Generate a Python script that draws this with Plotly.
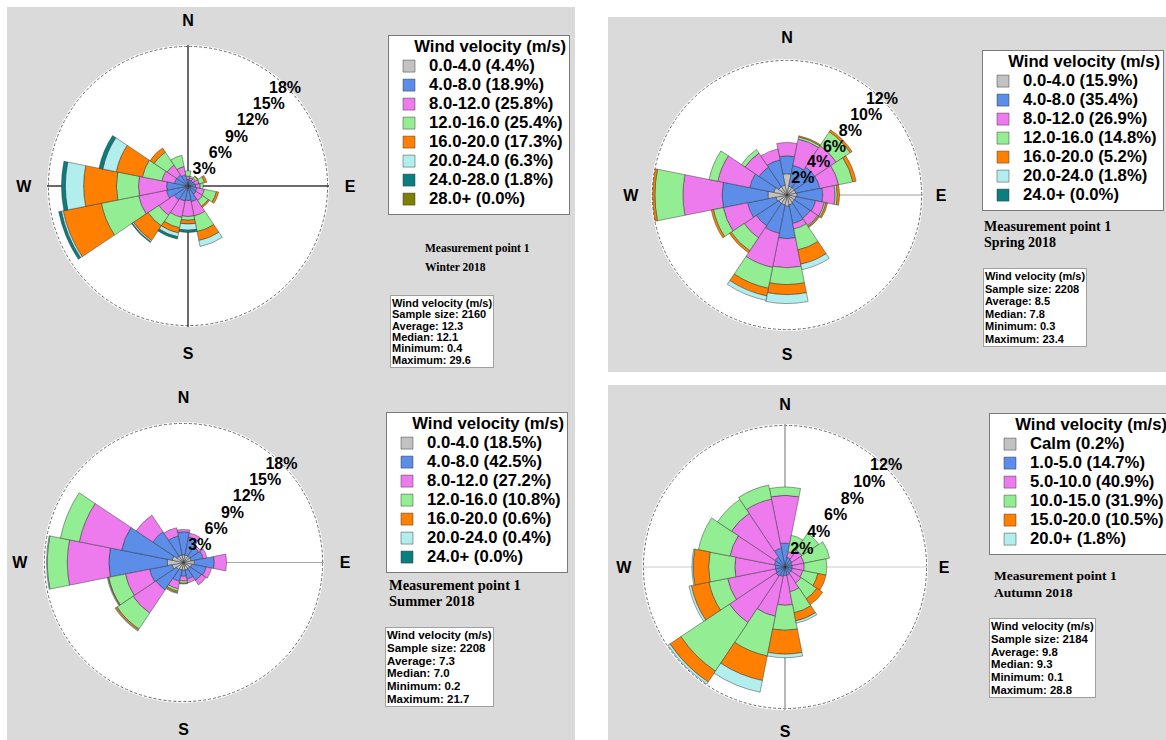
import plotly.graph_objects as go

W, H = 1166, 740
SANS = "Liberation Sans, Arial, sans-serif"
SERIF = "Liberation Serif, Times New Roman, serif"

# 16 compass sectors, degrees clockwise from north
directions = ["N", "NNE", "NE", "ENE", "E", "ESE", "SE", "SSE",
              "S", "SSW", "SW", "WSW", "W", "WNW", "NW", "NNW"]
angles = [i * 22.5 for i in range(16)]

speed_colors = ["#c2c2c2", "#5b8de9", "#ee7bee", "#93ee93",
                "#ff8000", "#b3eeee", "#0b7f80", "#808000"]

# ---- Winter 2018: frequency (%) per sector for each speed class ----
winter_bins = ["0.0-4.0 (4.4%)", "4.0-8.0 (18.9%)", "8.0-12.0 (25.8%)",
               "12.0-16.0 (25.4%)", "16.0-20.0 (17.3%)", "20.0-24.0 (6.3%)",
               "24.0-28.0 (1.8%)", "28.0+ (0.0%)"]
winter_freq = [
    [0.25, 0.2, 0.25, 0.25, 0.3, 0.3, 0.3, 0.3, 0.3, 0.3, 0.3, 0.35, 0.35, 0.25, 0.25, 0.25],
    [0.65, 0.6, 0.55, 0.65, 0.7, 0.9, 1.0, 1.8, 1.6, 1.7, 1.9, 2.55, 2.45, 1.55, 1.5, 1.25],
    [0.4, 0.3, 0.4, 0.6, 0.6, 1.0, 1.0, 1.9, 2.1, 2.2, 2.4, 3.7, 3.7, 1.7, 1.55, 1.1],
    [0.7, 0.2, 0.3, 0.7, 0.4, 1.6, 0.9, 2.1, 0.5, 1.4, 1.7, 5.0, 2.9, 2.6, 2.05, 1.5],
    [0.0, 0.0, 0.1, 0.3, 0.0, 0.3, 0.2, 1.2, 0.5, 0.7, 2.3, 5.1, 4.3, 3.5, 0.65, 0.0],
    [0.0, 0.0, 0.0, 0.0, 0.0, 0.0, 0.0, 0.8, 0.8, 0.5, 0.2, 0.25, 2.4, 1.8, 0.0, 0.0],
    [0.0, 0.0, 0.0, 0.0, 0.0, 0.0, 0.0, 0.0, 0.3, 0.3, 0.1, 0.35, 0.5, 0.5, 0.0, 0.0],
    [0.0] * 16,
]
winter_rings = [3, 6, 9, 12, 15, 18]
winter_stats = ["Wind velocity (m/s)", "Sample size: 2160", "Average: 12.3",
                "Median: 12.1", "Minimum: 0.4", "Maximum: 29.6"]

# ---- Spring 2018 ----
spring_bins = ["0.0-4.0 (15.9%)", "4.0-8.0 (35.4%)", "8.0-12.0 (26.9%)",
               "12.0-16.0 (14.8%)", "16.0-20.0 (5.2%)", "20.0-24.0 (1.8%)",
               "24.0+ (0.0%)"]
spring_freq = [
    [1.9, 0.8, 0.8, 0.8, 0.9, 0.8, 0.8, 0.9, 1.0, 0.9, 0.9, 1.0, 1.7, 1.2, 0.9, 0.9],
    [1.6, 1.9, 2.2, 2.2, 2.3, 1.8, 1.7, 1.7, 2.9, 2.6, 2.4, 2.6, 4.1, 2.2, 2.1, 2.3],
    [1.2, 2.4, 2.3, 1.7, 1.1, 0.8, 0.8, 0.5, 2.6, 3.1, 1.3, 2.2, 3.5, 2.9, 1.5, 1.0],
    [0.0, 0.2, 1.5, 1.3, 0.2, 0.15, 0.1, 1.9, 1.5, 1.9, 1.4, 0.9, 2.5, 0.8, 0.4, 0.0],
    [0.0, 0.1, 0.2, 0.3, 0.2, 0.15, 0.1, 1.3, 0.9, 0.7, 0.2, 0.2, 0.2, 0.0, 0.0, 0.0],
    [0.0, 0.0, 0.0, 0.0, 0.0, 0.0, 0.0, 0.5, 0.8, 0.4, 0.0, 0.0, 0.0, 0.0, 0.0, 0.0],
    [0.0] * 16,
]
spring_rings = [2, 4, 6, 8, 10, 12]
spring_stats = ["Wind velocity (m/s)", "Sample size: 2208", "Average: 8.5",
                "Median: 7.8", "Minimum: 0.3", "Maximum: 23.4"]

# ---- Summer 2018 ----
summer_bins = ["0.0-4.0 (18.5%)", "4.0-8.0 (42.5%)", "8.0-12.0 (27.2%)",
               "12.0-16.0 (10.8%)", "16.0-20.0 (0.6%)", "20.0-24.0 (0.4%)",
               "24.0+ (0.0%)"]
summer_freq = [
    [1.0, 1.0, 1.0, 1.0, 1.4, 1.1, 1.0, 1.0, 1.0, 1.0, 1.1, 1.5, 2.1, 1.5, 1.0, 1.0],
    [3.0, 2.4, 1.4, 1.6, 2.6, 1.9, 1.8, 1.2, 0.8, 1.5, 3.2, 3.0, 7.6, 6.7, 3.8, 2.5],
    [0.3, 0.5, 0.3, 0.5, 1.6, 0.7, 0.7, 0.5, 0.6, 1.0, 3.6, 3.2, 5.4, 5.6, 2.6, 1.1],
    [0.0, 0.0, 0.0, 0.0, 0.0, 0.0, 0.0, 0.0, 0.3, 0.3, 2.5, 2.2, 2.6, 2.5, 0.0, 0.0],
    [0.0, 0.0, 0.0, 0.0, 0.0, 0.0, 0.0, 0.0, 0.1, 0.2, 0.2, 0.1, 0.0, 0.0, 0.0, 0.0],
    [0.0, 0.0, 0.0, 0.0, 0.0, 0.0, 0.0, 0.0, 0.0, 0.1, 0.1, 0.1, 0.1, 0.0, 0.0, 0.0],
    [0.0] * 16,
]
summer_rings = [3, 6, 9, 12, 15, 18]
summer_stats = ["Wind velocity (m/s)", "Sample size: 2208", "Average: 7.3",
                "Median: 7.0", "Minimum: 0.2", "Maximum: 21.7"]

# ---- Autumn 2018 ----
autumn_bins = ["Calm (0.2%)", "1.0-5.0 (14.7%)", "5.0-10.0 (40.9%)",
               "10.0-15.0 (31.9%)", "15.0-20.0 (10.5%)", "20.0+ (1.8%)"]
autumn_freq = [
    [0.0125] * 16,
    [2.0, 0.8, 0.7, 0.6, 0.6, 0.6, 0.6, 0.7, 0.7, 0.8, 0.9, 0.8, 0.8, 0.9, 1.0, 1.6],
    [4.0, 0.5, 1.0, 1.0, 1.0, 0.9, 1.0, 1.4, 2.5, 3.4, 4.7, 4.1, 3.4, 3.8, 4.4, 4.2],
    [0.7, 1.4, 1.7, 2.2, 1.9, 1.3, 1.6, 1.8, 2.1, 3.4, 4.9, 1.6, 2.2, 2.7, 1.4, 1.2],
    [0.0, 0.0, 0.0, 0.0, 0.0, 0.7, 0.6, 0.7, 2.0, 2.1, 1.1, 1.5, 1.3, 0.0, 0.0, 0.0],
    [0.0, 0.0, 0.0, 0.0, 0.0, 0.0, 0.0, 0.2, 0.3, 1.0, 0.2, 0.2, 0.1, 0.0, 0.0, 0.0],
]
autumn_rings = [2, 4, 6, 8, 10, 12]
autumn_stats = ["Wind velocity (m/s)", "Sample size: 2184", "Average: 9.8",
                "Median: 9.3", "Minimum: 0.1", "Maximum: 28.8"]

fig = go.Figure()


def add_axis_lines(subplot, rmax, line_angles, color, lw):
    """Straight guide lines from the centre to the rim, drawn beneath the bars."""
    fig.add_trace(go.Barpolar(
        r=[rmax] * len(line_angles), theta=line_angles, base=0,
        width=[0.01] * len(line_angles),
        marker=dict(color="rgba(0,0,0,0)", line=dict(color=color, width=lw)),
        showlegend=False, hoverinfo="skip", subplot=subplot))


def add_rose(freq, bins, subplot, legend):
    base = [0.0] * 16
    for k, (vals, label) in enumerate(zip(freq, bins)):
        idx = [i for i, v in enumerate(vals) if v > 0]
        if idx:
            r = [vals[i] for i in idx]
            b = [base[i] for i in idx]
            th = [angles[i] for i in idx]
            names = [directions[i] for i in idx]
        else:
            # empty speed class: keep its legend entry, nothing to draw
            r, b, th, names = [0], [0], [0], [directions[0]]
        fig.add_trace(go.Barpolar(
            r=r, base=b, theta=th, width=[22.5] * len(r), hovertext=names,
            name="<span style='font-size:16.7px'>" + label + "</span>",
            marker=dict(color=speed_colors[k],
                        line=dict(color="rgba(45,45,45,0.75)", width=0.6)),
            subplot=subplot, legend=legend, hoverinfo="text+r"))
        base = [bb + v for bb, v in zip(base, vals)]


def add_ring_labels(rings, subplot):
    # percentage labels along the north-east diagonal
    fig.add_trace(go.Scatterpolar(
        r=rings, theta=[45] * len(rings), mode="text",
        text=[f"{t}%" for t in rings], textposition="middle center",
        textfont=dict(family=SANS, size=16, color="black", weight="bold"),
        showlegend=False, hoverinfo="skip", subplot=subplot))


def domain(cx, cy, r):
    return dict(x=[(cx - r) / W, (cx + r) / W], y=[1 - (cy + r) / H, 1 - (cy - r) / H])


def polar_cfg(cx, cy, r, rmax, ticklen):
    return dict(
        domain=domain(cx, cy, r),
        bgcolor="white",
        barmode="overlay",
        # a single dashed grid circle just inside the rim
        radialaxis=dict(range=[0, rmax], tickvals=[rmax * 0.99], showticklabels=False,
                        showline=False, showgrid=True, gridcolor="#6a6a6a",
                        gridwidth=1, griddash="3px,2px", ticks=""),
        angularaxis=dict(direction="clockwise", rotation=90,
                         tickvals=[0, 90, 180, 270], ticktext=["N", "E", "S", "W"],
                         showgrid=False, showline=False,
                         ticks="outside", ticklen=ticklen, tickcolor="rgba(0,0,0,0)",
                         tickfont=dict(family=SANS, size=16, color="black", weight="bold")),
    )


def legend_cfg(x, y):
    return dict(
        x=x / W, y=1 - y / H, xanchor="left", yanchor="top",
        bgcolor="white", bordercolor="#7a7a7a", borderwidth=1,
        font=dict(family=SANS, size=12, color="black", weight="bold"),
        title=dict(text="<span style='font-size:16.7px'>\u00a0\u00a0\u00a0\u00a0\u00a0Wind velocity (m/s)</span>",
                   font=dict(family=SANS, size=12, color="black", weight="bold")),
        traceorder="normal", tracegroupgap=0, itemclick=False, itemdoubleclick=False)


# guide lines
add_axis_lines("polar", 18.5, [0, 90, 180, 270], "#3a3a3a", 1)
add_axis_lines("polar2", 12.15, [90], "#a0a0a0", 1.2)
add_axis_lines("polar3", 18.25, [90], "#a8a8a8", 1.2)
add_axis_lines("polar4", 12.0, [0, 180], "#9a9a9a", 1.4)
add_axis_lines("polar4", 12.0, [90, 270], "#dcdcdc", 1)

add_rose(winter_freq, winter_bins, "polar", "legend")
add_rose(spring_freq, spring_bins, "polar2", "legend2")
add_rose(summer_freq, summer_bins, "polar3", "legend3")
add_rose(autumn_freq, autumn_bins, "polar4", "legend4")

add_ring_labels(winter_rings, "polar")
add_ring_labels(spring_rings, "polar2")
add_ring_labels(summer_rings, "polar3")
add_ring_labels(autumn_rings, "polar4")

panel = "#dadada"
shapes = [
    dict(type="rect", xref="paper", yref="paper", layer="below",
         x0=x0 / W, x1=x1 / W, y0=1 - y1 / H, y1=1 - y0 / H,
         fillcolor=panel, line=dict(width=0))
    for (x0, y0, x1, y1) in [(7, 7, 575, 740), (608, 17, 1166, 372), (608, 385, 1166, 740)]
]

annotations = []


def caption(x, y1, y2, season, size):
    for yy, txt in ((y1, "Measurement point 1"), (y2, season)):
        annotations.append(dict(
            xref="paper", yref="paper", x=x / W, y=1 - yy / H, xanchor="left", yanchor="middle",
            text=txt, showarrow=False,
            font=dict(family=SERIF, size=size, color="black", weight="bold")))


def stats_box(x, y, lines, spacing, size=11):
    annotations.append(dict(
        xref="paper", yref="paper", x=x / W, y=1 - y / H, xanchor="left", yanchor="top",
        text="<br>".join(f"<span style='font-size:{size}px'>{s}</span>" for s in lines),
        align="left", showarrow=False, bgcolor="white", bordercolor="#a0a0a0",
        borderwidth=1, borderpad=1,
        font=dict(family=SANS, size=spacing / 1.3, color="black", weight="bold")))


caption(423, 248, 267, "Winter 2018", 11.5)
caption(982, 227, 243, "Spring 2018", 14)
caption(387, 585, 601, "Summer 2018", 14.5)
caption(992, 575, 592, "Autumn 2018", 13.5)
stats_box(390, 295, winter_stats, 11.3)
stats_box(983, 268, spring_stats, 12.6)
stats_box(385, 627, summer_stats, 12.8, 11.5)
stats_box(989, 618, autumn_stats, 12.8, 11.3)

fig.update_layout(
    width=W, height=H,
    margin=dict(l=0, r=0, t=0, b=0, autoexpand=False),
    paper_bgcolor="white",
    showlegend=True,
    polar=polar_cfg(188, 186, 141, 18.5, 12),
    polar2=polar_cfg(787, 195, 136, 12.15, 9),
    polar3=polar_cfg(183.5, 562.5, 140.5, 18.25, 12),
    polar4=polar_cfg(785, 567, 143, 12.0, 7),
    legend=legend_cfg(388, 35),
    legend2=legend_cfg(982, 50),
    legend3=legend_cfg(386, 412),
    legend4=legend_cfg(989, 413),
    shapes=shapes,
    annotations=annotations,
)

fig.write_html("out.html")
